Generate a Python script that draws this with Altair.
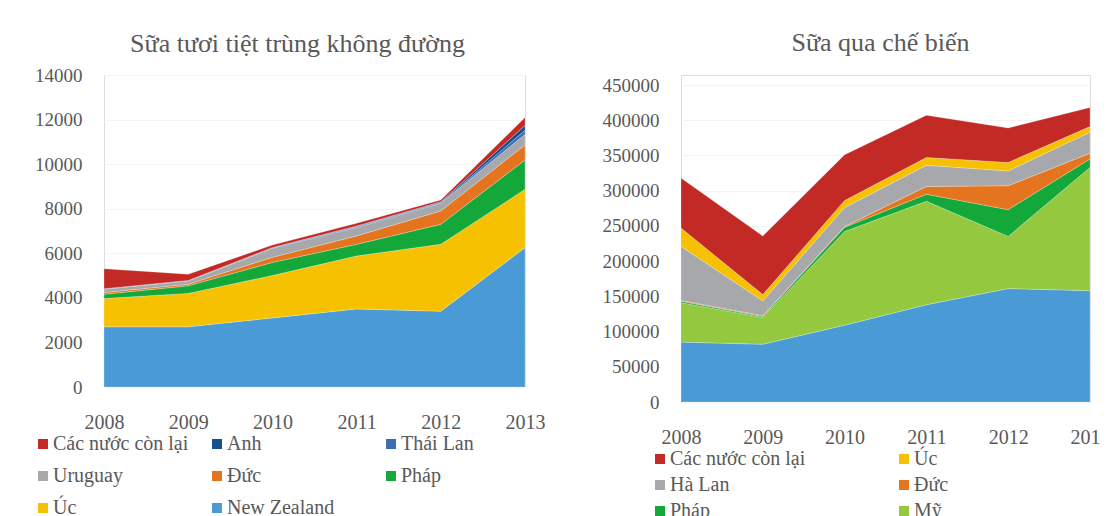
import altair as alt
import pandas as pd

years = [2008, 2009, 2010, 2011, 2012, 2013]

# Left chart: Sữa tươi tiệt trùng không đường (stack bottom -> top)
left_series = ["New Zealand", "Úc", "Pháp", "Đức", "Uruguay", "Thái Lan", "Anh", "Các nước còn lại"]
left_values = {
    "New Zealand": [2700, 2700, 3100, 3500, 3400, 6250],
    "Úc": [1270, 1500, 1900, 2380, 3000, 2620],
    "Pháp": [190, 340, 590, 520, 900, 1310],
    "Đức": [80, 70, 230, 380, 600, 680],
    "Uruguay": [150, 150, 400, 380, 350, 480],
    "Thái Lan": [10, 10, 20, 40, 30, 180],
    "Anh": [10, 10, 20, 20, 30, 220],
    "Các nước còn lại": [900, 280, 110, 130, 80, 350],
}
# legend entries are laid out column by column (3 rows x 3 columns)
left_legend = ["Các nước còn lại", "Uruguay", "Úc", "Anh", "Đức", "New Zealand", "Thái Lan", "Pháp"]
left_colors = {
    "Các nước còn lại": "#C32A26",
    "Anh": "#13508E",
    "Thái Lan": "#3C6EB4",
    "Uruguay": "#A6A8AC",
    "Đức": "#E5741E",
    "Pháp": "#14A83B",
    "Úc": "#F6C100",
    "New Zealand": "#4A9BD5",
}

# Right chart: Sữa qua chế biến (stack bottom -> top)
right_series = ["New Zealand", "Mỹ", "Pháp", "Đức", "Hà Lan", "Úc", "Các nước còn lại"]
right_values = {
    "New Zealand": [85000, 82000, 109000, 138000, 161000, 158000],
    "Mỹ": [56000, 38000, 133000, 147000, 74000, 175000],
    "Pháp": [2000, 1500, 6000, 10000, 38000, 12000],
    "Đức": [1000, 1000, 1000, 11000, 34000, 8000],
    "Hà Lan": [77000, 21000, 27000, 30000, 21000, 30000],
    "Úc": [26000, 9000, 10000, 11000, 12000, 8000],
    "Các nước còn lại": [71000, 83000, 65000, 60000, 49000, 27000],
}
right_legend = ["Các nước còn lại", "Hà Lan", "Pháp", "Úc", "Đức", "Mỹ", "New Zealand"]
right_legend_shown = ["Các nước còn lại", "Hà Lan", "Pháp", "Úc", "Đức", "Mỹ"]
right_colors = {
    "Các nước còn lại": "#C32A26",
    "Úc": "#F6C100",
    "Hà Lan": "#A6A8AC",
    "Đức": "#E5741E",
    "Pháp": "#14A83B",
    "Mỹ": "#93C83F",
    "New Zealand": "#4A9BD5",
}

FONT = "Times New Roman, Liberation Serif, DejaVu Serif, serif"
TXT = "#595959"


def make_df(series, values):
    rows = []
    for i, s in enumerate(series):
        for y, v in zip(years, values[s]):
            rows.append({"year": y, "series": s, "value": v, "idx": i})
    return pd.DataFrame(rows)


def panel(df, title, ytop, ymax, ystep, legend_dom, colors, legend_vals, w, h,
          cols, colpad, rowpad, lx, ly, tdx, toff):
    return alt.Chart(df).mark_area(stroke="#ffffff", strokeWidth=0.4, strokeOpacity=0.6).encode(
        x=alt.X("year:Q", scale=alt.Scale(domain=[2008, 2013], nice=False, zero=False),
                axis=alt.Axis(values=years, format="d", title=None, grid=False, domain=False,
                              ticks=False, labelFlush=False, labelFont=FONT, labelFontSize=20,
                              labelColor=TXT, labelPadding=25)),
        y=alt.Y("value:Q", stack="zero",
                scale=alt.Scale(domain=[0, ytop], nice=False),
                axis=alt.Axis(values=list(range(0, ymax + 1, ystep)), format="d", title=None,
                              grid=True, gridColor="#f4f4f4", domain=False, ticks=False,
                              labelFont=FONT, labelFontSize=19, labelColor=TXT,
                              labelPadding=22)),
        color=alt.Color("series:N",
                        scale=alt.Scale(domain=legend_dom, range=[colors[s] for s in legend_dom]),
                        legend=alt.Legend(title=None, orient="none", legendX=lx, legendY=ly,
                                          columns=cols, columnPadding=colpad, rowPadding=rowpad,
                                          gridAlign="all", values=legend_vals,
                                          symbolType="square", symbolSize=100,
                                          symbolStrokeWidth=0, labelFont=FONT,
                                          labelFontSize=20, labelColor=TXT, labelOffset=0,
                                          labelLimit=300)),
        order=alt.Order("idx:Q", sort="ascending"),
    ).properties(
        width=w, height=h,
        title=alt.TitleParams(title, font=FONT, fontSize=26, fontWeight="normal",
                              color=TXT, anchor="middle", frame="group", dx=tdx, offset=toff),
    )


left = panel(make_df(left_series, left_values), "Sữa tươi tiệt trùng không đường",
             14000, 14000, 2000, left_legend, left_colors, left_legend, 421, 312,
             3, 18, 12, -71, 359, -17, 9)
right = panel(make_df(right_series, right_values), "Sữa qua chế biến",
              450000 * 327 / 317, 450000, 50000, right_legend, right_colors, right_legend_shown,
              409, 327, 2, 88, 6, -31, 374, -5, 19)

chart = alt.hconcat(left, right, spacing=55).resolve_scale(color="independent").properties(
    padding={"left": 24, "top": 21, "right": -10, "bottom": 0}
).configure_view(stroke=None).configure(background="#ffffff")

chart.save("out.html", embed_options={"renderer": "svg", "actions": False})
